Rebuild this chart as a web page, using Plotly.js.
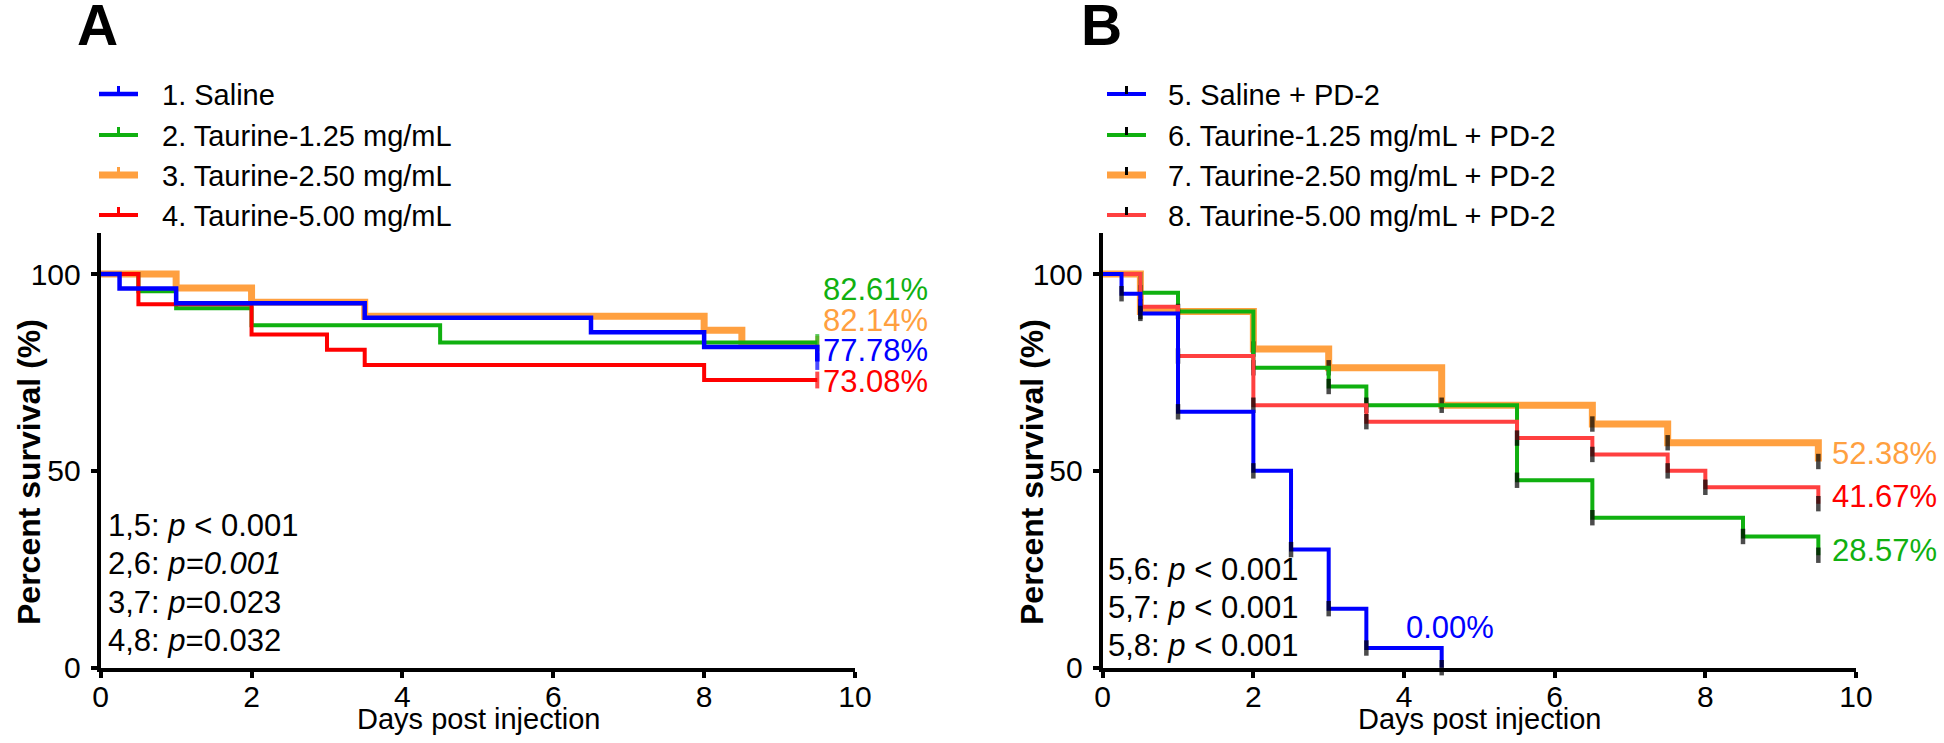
<!DOCTYPE html>
<html>
<head>
<meta charset="utf-8">
<script src="https://cdn.plot.ly/plotly-3.0.1.min.js"></script>
<style>html,body{margin:0;padding:0;background:#fff;}#chart{width:1944px;height:743px;}</style>
</head>
<body>
<div id="chart"></div>
<script>
// ---------- Data (Kaplan-Meier steps) ----------
// Panel A
const namesA = ["1. Saline", "2. Taurine-1.25 mg/mL", "3. Taurine-2.50 mg/mL", "4. Taurine-5.00 mg/mL"];
const daysA_saline = [0, 0.25, 1, 3.5, 6.5, 8, 9.5];
const survA_saline = [100, 96.30, 92.59, 88.89, 85.19, 81.48, 77.78];
const daysA_t125 = [0, 0.5, 1, 2, 4.5, 9.5];
const survA_t125 = [100, 95.65, 91.30, 86.96, 82.61, 82.61];
const daysA_t250 = [0, 1, 2, 3.5, 8, 8.5, 9.5];
const survA_t250 = [100, 96.43, 92.86, 89.29, 85.71, 82.14, 82.14];
const daysA_t500 = [0, 0.5, 2, 3, 3.5, 8, 9.5];
const survA_t500 = [100, 92.31, 84.62, 80.77, 76.92, 73.08, 73.08];
const finalA = ["82.61%", "82.14%", "77.78%", "73.08%"];
const pA = ["1,5: <i>p</i> &lt; 0.001", "2,6: <i>p=0.001</i>", "3,7: <i>p</i>=0.023", "4,8: <i>p</i>=0.032"];

// Panel B
const namesB = ["5. Saline + PD-2", "6. Taurine-1.25 mg/mL + PD-2", "7. Taurine-2.50 mg/mL + PD-2", "8. Taurine-5.00 mg/mL + PD-2"];
const daysB_saline = [0, 0.25, 0.5, 1, 2, 2.5, 3, 3.5, 4.5];
const survB_saline = [100, 95, 90, 65, 50, 30, 15, 5, 0];
const daysB_t125 = [0, 0.5, 1, 2, 3, 3.5, 5.5, 6.5, 8.5, 9.5];
const survB_t125 = [100, 95.24, 90.48, 76.19, 71.43, 66.67, 47.62, 38.10, 33.33, 28.57];
const daysB_t250 = [0, 0.5, 2, 3, 4.5, 6.5, 7.5, 9.5];
const survB_t250 = [100, 90.48, 80.95, 76.19, 66.67, 61.90, 57.14, 52.38];
const daysB_t500 = [0, 0.5, 1, 2, 3.5, 5.5, 6.5, 7.5, 8, 9.5];
const survB_t500 = [100, 91.67, 79.17, 66.67, 62.5, 58.33, 54.17, 50, 45.83, 41.67];
const finalB = ["52.38%", "41.67%", "28.57%", "0.00%"];
const pB = ["5,6: <i>p</i> &lt; 0.001", "5,7: <i>p</i> &lt; 0.001", "5,8: <i>p</i> &lt; 0.001"];

const xTicks = [0, 2, 4, 6, 8, 10];
const yTicks = [0, 50, 100];

// ---------- Styling ----------
const W = 1944, H = 743;
const FONT = "Liberation Sans, Arial, sans-serif";
const cBlue = "#0000ff", cGreen = "#10b010", cOrange = "#ffa040", cRed = "#ff0000", cRedB = "#ff4040";
const px = v => v / W;           // px -> paper x
const py = v => (H - v) / H;     // px -> paper y (from top)

function endSizes(n, s) { return Array.from({length: n}, (_, i) => i === n - 1 ? s : 0); }
function stepSizes(n, s) { return Array.from({length: n}, (_, i) => i === 0 ? 0 : s); }

function trA(x, y, name, color, w) {
  return {
    x: x, y: y, name: name, type: "scatter", mode: "lines+markers", showlegend: false,
    line: {shape: "hv", color: color, width: w},
    marker: {symbol: "line-ns", size: endSizes(x.length, 12), color: color, line: {color: color, width: 4}},
    xaxis: "x", yaxis: "y", cliponaxis: false
  };
}
function trB(x, y, name, color, w) {
  return {
    x: x, y: y, name: name, type: "scatter", mode: "lines+markers", showlegend: false,
    line: {shape: "hv", color: color, width: w},
    marker: {symbol: "line-ns", size: stepSizes(x.length, 11), color: "#000", line: {color: "#000", width: 4.5}},
    xaxis: "x2", yaxis: "y2", cliponaxis: false
  };
}

const colorsA = [cBlue, cGreen, cOrange, cRed];
const widthsA = [4.5, 4, 7, 4];
const colorsB = [cBlue, cGreen, cOrange, cRedB];
const widthsB = [4, 4, 7, 4];

// drawing order: orange underneath, saline on top (as in the reference)
const data = [
  trA(daysA_t250, survA_t250, namesA[2], cOrange, 7),
  trA(daysA_t125, survA_t125, namesA[1], cGreen, 4),
  trA(daysA_t500, survA_t500, namesA[3], cRed, 4),
  trA(daysA_saline, survA_saline, namesA[0], cBlue, 4.5),
  trB(daysB_t250, survB_t250, namesB[2], cOrange, 7),
  trB(daysB_t125, survB_t125, namesB[1], cGreen, 4),
  trB(daysB_t500, survB_t500, namesB[3], cRedB, 4),
  trB(daysB_saline, survB_saline, namesB[0], cBlue, 4)
];

const axFont = {family: FONT, size: 30, color: "#000"};
function xax(domain) {
  return {domain: domain, range: [0, 10], tickvals: xTicks, ticks: "outside", ticklen: 6, tickwidth: 4,
    tickcolor: "#000", showline: true, linewidth: 4, linecolor: "#000", showgrid: false, zeroline: false,
    tickfont: axFont, ticklabelstandoff: -7, fixedrange: true};
}
function yax(anchor) {
  return {domain: [py(667.7), py(232.7)], range: [0, 110.5], tickvals: yTicks, ticks: "outside", ticklen: 6, tickwidth: 4,
    tickcolor: "#000", showline: true, linewidth: 4, linecolor: "#000", showgrid: false, zeroline: false,
    tickfont: axFont, ticklabelstandoff: 4, anchor: anchor, fixedrange: true};
}

const ann = [];
const shapes = [];
function addText(text, x, y, opts) {
  ann.push(Object.assign({text: text, x: px(x), y: py(y), xref: "paper", yref: "paper", showarrow: false,
    xanchor: "left", yanchor: "middle", font: {family: FONT, size: 30, color: "#000"}}, opts || {}));
}
function seg(x0, y0, x1, y1, color, w) {
  shapes.push({type: "line", xref: "paper", yref: "paper", x0: px(x0), y0: py(y0), x1: px(x1), y1: py(y1),
    line: {color: color, width: w}});
}
// legends (key glyph + name)
const legRows = [95, 136, 176, 216];
function legend(names, colors, widths, tickColor, xs, xt) {
  names.forEach((n, i) => {
    const yy = legRows[i];
    seg(xs, yy - 1, xs + 39, yy - 1, colors[i], widths[i]);
    seg(xs + 19.5, yy - 1, xs + 19.5, yy - 9, tickColor || colors[i], 3);
    addText(n, xt, yy, {font: {family: FONT, size: 29, color: "#000"}});
  });
}
legend(namesA, colorsA, widthsA, null, 99, 160);
legend(namesB, colorsB, widthsB, "#000", 1107, 1166);

// panel letters
addText("<b>A</b>", 97, 25, {xanchor: "center", font: {family: FONT, size: 57, color: "#000"}});
addText("<b>B</b>", 1101, 25, {xanchor: "center", font: {family: FONT, size: 57, color: "#000"}});
// axis titles
addText("<b>Percent survival (%)</b>", 29, 472, {xanchor: "center", textangle: -90, font: {family: FONT, size: 32, color: "#000"}});
addText("<b>Percent survival (%)</b>", 1032, 472, {xanchor: "center", textangle: -90, font: {family: FONT, size: 32, color: "#000"}});
addText("Days post injection", 478, 719, {xanchor: "center", font: {family: FONT, size: 29, color: "#000"}});
addText("Days post injection", 1479, 719, {xanchor: "center", font: {family: FONT, size: 29, color: "#000"}});
// final survival labels
const colA = [cGreen, cOrange, cBlue, cRed];
const yA = [289, 320, 350, 381];
finalA.forEach((t, i) => addText(t, 821, yA[i], {font: {family: FONT, size: 31, color: colA[i]}}));
const colB = [cOrange, cRed, cGreen, cBlue];
const xB = [1830, 1830, 1830, 1404];
const yB = [453, 496, 550, 627];
finalB.forEach((t, i) => addText(t, xB[i], yB[i], {font: {family: FONT, size: 31, color: colB[i]}}));
// p-values
const ypA = [525, 563, 602, 640];
pA.forEach((t, i) => addText(t, 106, ypA[i], {font: {family: FONT, size: 31, color: "#000"}}));
const ypB = [569, 607, 645];
pB.forEach((t, i) => addText(t, 1106, ypB[i], {font: {family: FONT, size: 31, color: "#000"}}));

const layout = {
  width: W, height: H, margin: {l: 0, r: 0, t: 0, b: 0}, paper_bgcolor: "#fff", plot_bgcolor: "#fff",
  showlegend: false,
  xaxis: xax([px(100.7), px(855)]), yaxis: yax("x"),
  xaxis2: xax([px(1102.7), px(1856)]), yaxis2: yax("x2"),
  annotations: ann, shapes: shapes
};

Plotly.newPlot("chart", data, layout, {displayModeBar: false, staticPlot: true});
</script>
</body>
</html>
